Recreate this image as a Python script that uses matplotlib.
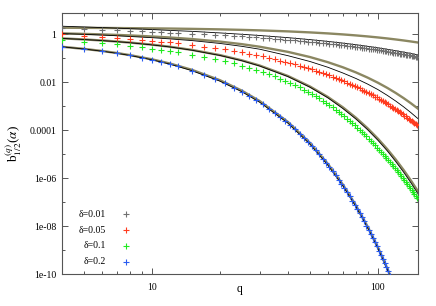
import numpy as np
import matplotlib
matplotlib.use("Agg")
import matplotlib.pyplot as plt

plt.rcParams['font.family'] = ['Liberation Serif', 'DejaVu Serif']
plt.rcParams['mathtext.fontset'] = 'stix'

#---------------- DATA (log10 of b_{1/2}^{(q)}) ----------------#
q_pts = [4, 5, 6, 7, 8, 9, 10, 11, 12, 13,
         15, 17, 19, 21, 23, 25, 27, 29, 31, 33, 35, 37, 39, 41, 43, 45, 47, 49,
         51, 53, 55, 57, 59, 61, 63, 65, 67, 69, 71, 73, 75, 77, 79, 81, 83, 85,
         87, 89, 91, 93, 95, 97, 99, 101, 103, 105, 107, 109, 111, 113, 115, 117,
         119, 121, 123, 125, 127, 129, 131, 133, 135, 137, 139, 141, 143, 145, 147, 149]

logb_d001 = [0.24, 0.21, 0.18, 0.16, 0.14, 0.12, 0.10, 0.08, 0.06, 0.05,
             0.02, -0.01, -0.03, -0.05, -0.08, -0.10, -0.12, -0.14, -0.16, -0.18, -0.20, -0.21,
             -0.23, -0.25, -0.26, -0.28, -0.30, -0.31, -0.33, -0.34, -0.36, -0.37, -0.39, -0.40,
             -0.42, -0.43, -0.45, -0.46, -0.47, -0.49, -0.50, -0.51, -0.53, -0.54, -0.55, -0.57,
             -0.58, -0.59, -0.61, -0.62, -0.63, -0.64, -0.66, -0.67, -0.68, -0.69, -0.71, -0.72,
             -0.73, -0.74, -0.75, -0.77, -0.78, -0.79, -0.80, -0.81, -0.82, -0.84, -0.85, -0.86,
             -0.87, -0.88, -0.89, -0.90, -0.92, -0.93, -0.94, -0.95]

logb_d005 = [-0.01, -0.06, -0.11, -0.16, -0.19, -0.23, -0.27, -0.31, -0.35, -0.38,
             -0.45, -0.52, -0.58, -0.64, -0.70, -0.76, -0.82, -0.88, -0.93, -0.99, -1.05, -1.10,
             -1.15, -1.21, -1.26, -1.31, -1.36, -1.42, -1.47, -1.52, -1.57, -1.62, -1.67, -1.72,
             -1.77, -1.82, -1.87, -1.92, -1.97, -2.02, -2.07, -2.12, -2.16, -2.21, -2.26, -2.31,
             -2.36, -2.41, -2.45, -2.50, -2.55, -2.60, -2.64, -2.69, -2.74, -2.79, -2.83, -2.88,
             -2.93, -2.98, -3.02, -3.07, -3.12, -3.16, -3.21, -3.26, -3.30, -3.34, -3.39, -3.43,
             -3.48, -3.52, -3.57, -3.61, -3.66, -3.70, -3.74, -3.78]

logb_d01 = [-0.24, -0.31, -0.37, -0.43, -0.49, -0.55, -0.61, -0.66, -0.71, -0.76,
            -0.86, -0.95, -1.04, -1.13, -1.22, -1.31, -1.40, -1.49, -1.58, -1.67, -1.76, -1.85,
            -1.94, -2.03, -2.12, -2.22, -2.31, -2.40, -2.50, -2.59, -2.68, -2.77, -2.87, -2.96,
            -3.05, -3.15, -3.24, -3.33, -3.43, -3.52, -3.61, -3.70, -3.80, -3.89, -3.98, -4.08,
            -4.17, -4.26, -4.36, -4.45, -4.54, -4.63, -4.73, -4.81, -4.89, -4.98, -5.06, -5.15,
            -5.23, -5.32, -5.40, -5.48, -5.57, -5.65, -5.74, -5.82, -5.90, -5.99, -6.07, -6.16,
            -6.24, -6.32, -6.41, -6.49, -6.58, -6.66, -6.74, -6.83]

logb_d02 = [-0.52, -0.62, -0.71, -0.80, -0.89, -0.98, -1.07, -1.16, -1.25, -1.34,
            -1.52, -1.70, -1.88, -2.05, -2.23, -2.40, -2.58, -2.75, -2.92, -3.10, -3.27, -3.45,
            -3.62, -3.79, -3.97, -4.14, -4.32, -4.49, -4.66, -4.84, -5.01, -5.19, -5.36, -5.53,
            -5.71, -5.88, -6.06, -6.23, -6.40, -6.58, -6.75, -6.93, -7.10, -7.27, -7.45, -7.62,
            -7.80, -7.97, -8.14, -8.32, -8.49, -8.67, -8.84, -9.01, -9.19, -9.36, -9.54, -9.71,
            -9.88, -10.06, -10.23]

# approximation curves (olive = first approx, black = second approx)
q_line = [4, 5, 6, 7, 8, 10, 12, 15, 20, 25, 30, 40, 50, 60, 70, 80, 90, 100,
          110, 120, 130, 140, 150]
olive_d001 = [0.263, 0.259, 0.255, 0.251, 0.246, 0.238, 0.230, 0.217, 0.196, 0.175, 0.154,
              0.112, 0.070, 0.028, -0.014, -0.056, -0.098, -0.140, -0.182, -0.224, -0.266,
              -0.308, -0.350]
black_d001 = [0.327, 0.297, 0.271, 0.247, 0.226, 0.189, 0.153, 0.114, 0.048, -0.008, -0.059,
              -0.149, -0.230, -0.305, -0.376, -0.444, -0.509, -0.572, -0.633, -0.693, -0.752,
              -0.809, -0.866]
olive_d005 = [0.029, 0.008, -0.013, -0.035, -0.056, -0.099, -0.142, -0.206, -0.313, -0.420,
              -0.527, -0.741, -0.955, -1.169, -1.383, -1.597, -1.811, -2.025, -2.239, -2.453,
              -2.667, -2.881, -3.095]
black_d005 = [0.02, -0.01, -0.04, -0.07, -0.10, -0.15, -0.20, -0.27, -0.39, -0.51, -0.63,
              -0.90, -1.14, -1.38, -1.62, -1.85, -2.08, -2.31, -2.55, -2.79, -3.03, -3.27, -3.51]
olive_d01 = [-0.179, -0.223, -0.266, -0.310, -0.353, -0.440, -0.527, -0.658, -0.875, -1.093,
             -1.310, -1.745, -2.180, -2.615, -3.050, -3.485, -3.920, -4.355, -4.790, -5.225,
             -5.660, -6.095, -6.530]
black_d01 = [-0.18, -0.225, -0.27, -0.315, -0.36, -0.45, -0.535, -0.67, -0.89, -1.11, -1.33,
             -1.77, -2.21, -2.65, -3.10, -3.54, -3.98, -4.42, -4.86, -5.31, -5.75, -6.19, -6.63]
olive_d02 = [-0.528, -0.615, -0.702, -0.789, -0.876, -1.050, -1.224, -1.485, -1.920, -2.355,
             -2.790, -3.660, -4.530, -5.400, -6.270, -7.140, -8.010, -8.880, -9.750, -10.62]
black_d02 = [-0.53, -0.62, -0.71, -0.80, -0.89, -1.07, -1.25, -1.52, -1.96, -2.40, -2.84,
             -3.71, -4.58, -5.45, -6.32, -7.19, -8.06, -8.93, -9.80, -10.67]

labels = ['δ=0.01', 'δ=0.05', 'δ=0.1', 'δ=0.2']
colors = ['#707070', '#ff3b1f', '#1fea1f', '#2a5cf0']
olive = '#8b8762'

fig = plt.figure(figsize=(4.36, 3.06), dpi=100)
ax = fig.add_axes([0.1422, 0.1036, 0.8158, 0.8549])

for ol, bl in [(olive_d001, black_d001), (olive_d005, black_d005),
               (olive_d01, black_d01), (olive_d02, black_d02)]:
    ax.plot(q_line[:len(ol)], 10 ** np.array(ol), color=olive, lw=1.7, zorder=2)
    ax.plot(q_line[:len(bl)], 10 ** np.array(bl), color='black', lw=0.6, zorder=3)

series = [logb_d001, logb_d005, logb_d01, logb_d02]
for vals, c in zip(series, colors):
    qq = q_pts[:len(vals)]
    ax.plot(qq, 10 ** np.array(vals), '+', color=c, ms=4.4, mew=0.8, zorder=4)

ax.set_xscale('log')
ax.set_yscale('log')
ax.set_xlim(4, 150)
ax.set_ylim(1e-10, 10 ** 0.89)

ax.set_xticks([10, 100])
ax.set_xticklabels(['10', '100'])
ax.set_xticks([4, 5, 6, 7, 8, 9, 20, 30, 40, 50, 60, 70, 80, 90], minor=True)
ax.xaxis.set_minor_formatter(matplotlib.ticker.NullFormatter())
ax.set_yticks([1, 1e-2, 1e-4, 1e-6, 1e-8, 1e-10])
ax.set_yticklabels(['1', '0.01', '0.0001', '1e-06', '1e-08', '1e-10'])
ax.set_yticks([1e-1, 1e-3, 1e-5, 1e-7, 1e-9], minor=True)
ax.yaxis.set_minor_formatter(matplotlib.ticker.NullFormatter())

ax.tick_params(which='both', direction='in', top=True, right=True,
               labelsize=7, color='#555555')
ax.tick_params(axis='x', pad=6)
ax.tick_params(axis='y', pad=4)
ax.tick_params(which='major', length=4.5, width=0.7)
ax.tick_params(which='minor', length=2.5, width=0.7)
for sp in ax.spines.values():
    sp.set_color('#555555')
    sp.set_linewidth(0.8)

ax.set_xlabel('q', fontsize=8.5, labelpad=-6)
ax.set_ylabel(r'b$_{1/2}^{(q)}$($\alpha$)', fontsize=9.5, labelpad=4)

# legend
rows = [0.229, 0.169, 0.109, 0.048]
for lab, c, yy in zip(labels, colors, rows):
    ax.text(0.124, yy, lab, transform=ax.transAxes, ha='right', va='center', fontsize=7)
    ax.plot([0.180], [yy], '+', color=c, ms=4.4, mew=0.8, transform=ax.transAxes)

fig.savefig('out.png', dpi=100)
